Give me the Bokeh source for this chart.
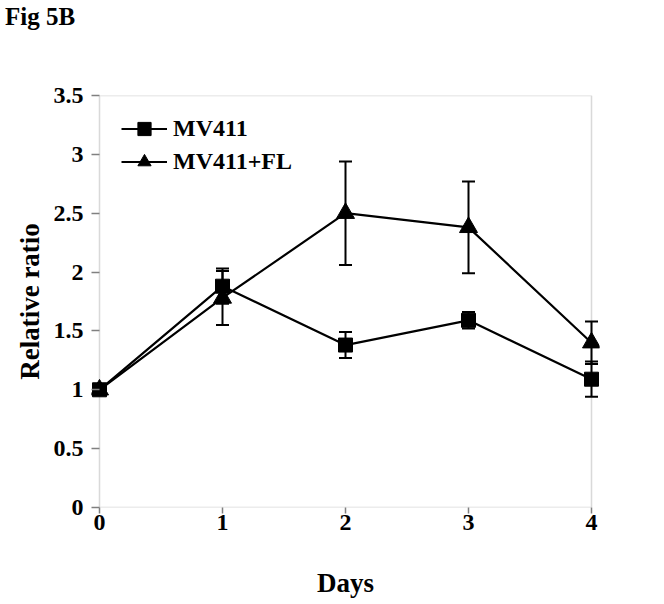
from bokeh.plotting import figure
from bokeh.layouts import column
from bokeh.models import (Range1d, FixedTicker, ColumnDataSource, Whisker, TeeHead,
                          Legend, LegendItem, BoxAnnotation, Div)
from bokeh.embed import file_html
from bokeh.resources import INLINE

# ---- data ----
days = [0, 1, 2, 3, 4]
mv411 = [1.00, 1.88, 1.38, 1.59, 1.09]
mv411_err = [0.0, 0.15, 0.11, 0.07, 0.15]
mv411fl = [1.00, 1.78, 2.50, 2.38, 1.40]
mv411fl_err = [0.0, 0.23, 0.44, 0.39, 0.18]
y_ticks = [0, 0.5, 1, 1.5, 2, 2.5, 3, 3.5]
y_tick_labels = ["0", "0.5", "1", "1.5", "2", "2.5", "3", "3.5"]
x_ticks = [0, 1, 2, 3, 4]
series_names = ["MV411", "MV411+FL"]
title_text = "Fig 5B"

FONT = "Liberation Serif"
GRAY = "#808080"

box_px = 492.0
pad_px = 8.0
pad = (days[-1] - days[0]) * pad_px / box_px

TITLE_H = 40

title = Div(text=title_text, width=656, height=TITLE_H, margin=(0, 0, 0, 0),
            styles={"font-family": FONT, "font-weight": "bold", "font-size": "25px",
                    "color": "black", "line-height": "1", "padding-top": "4px",
                    "padding-left": "5px", "background-color": "white"})

p = figure(width=656, height=600 - TITLE_H, output_backend="svg", toolbar_location=None,
           x_range=Range1d(days[0] - pad, days[-1] + pad), y_range=Range1d(0, 3.5),
           min_border_left=91, min_border_right=57, min_border_top=95 - TITLE_H,
           min_border_bottom=92, margin=(0, 0, 0, 0))
p.outline_line_color = None
p.grid.visible = False
p.background_fill_color = "white"
p.border_fill_color = "white"

# frame box
p.add_layout(BoxAnnotation(left=days[0], right=days[-1], bottom=0, top=3.5,
                           fill_alpha=0, line_color=GRAY, line_width=1.5, level="underlay"))

# axes
xa = p.xaxis[0]
xa.ticker = FixedTicker(ticks=x_ticks)
xa.axis_line_color = None
xa.major_tick_line_color = GRAY
xa.major_tick_line_width = 1.5
xa.major_tick_out = 6
xa.major_tick_in = 0
xa.minor_tick_line_color = None
xa.major_label_text_font = FONT
xa.major_label_text_font_style = "bold"
xa.major_label_text_font_size = "24px"
xa.major_label_text_color = "black"
xa.major_label_standoff = 1
xa.axis_label = "Days"
xa.axis_label_text_font = FONT
xa.axis_label_text_font_style = "bold"
xa.axis_label_text_font_size = "27px"
xa.axis_label_text_color = "black"
xa.axis_label_standoff = 35

ya = p.yaxis[0]
ya.ticker = FixedTicker(ticks=y_ticks)
ya.major_label_overrides = {t: l for t, l in zip(y_ticks, y_tick_labels)}
ya.axis_line_color = None
ya.major_tick_line_color = GRAY
ya.major_tick_line_width = 1.5
ya.major_tick_out = 0
ya.major_tick_in = 8
ya.minor_tick_line_color = None
ya.major_label_text_font = FONT
ya.major_label_text_font_style = "bold"
ya.major_label_text_font_size = "24px"
ya.major_label_text_color = "black"
ya.major_label_standoff = 8
ya.axis_label = "Relative ratio"
ya.axis_label_text_font = FONT
ya.axis_label_text_font_style = "bold"
ya.axis_label_text_font_size = "27px"
ya.axis_label_text_color = "black"
ya.axis_label_standoff = 6

# error bars
for vals, errs in ((mv411fl, mv411fl_err), (mv411, mv411_err)):
    src = ColumnDataSource(dict(x=days,
                                upper=[v + e for v, e in zip(vals, errs)],
                                lower=[v - e for v, e in zip(vals, errs)]))
    p.add_layout(Whisker(source=src, base="x", upper="upper", lower="lower",
                         dimension="height", line_color="black", line_width=2,
                         upper_head=TeeHead(size=13, line_color="black", line_width=2),
                         lower_head=TeeHead(size=13, line_color="black", line_width=2)))

# series
l2 = p.line(days, mv411fl, line_color="black", line_width=2.2)
s2 = p.scatter(days, mv411fl, marker="triangle", size=18, fill_color="black", line_color="black")
l1 = p.line(days, mv411, line_color="black", line_width=2.2)
s1 = p.scatter(days, mv411, marker="square", size=14, fill_color="black", line_color="black")

legend = Legend(items=[LegendItem(label=series_names[0], renderers=[l1, s1]),
                       LegendItem(label=series_names[1], renderers=[l2, s2])],
                location=(30, 413 - 18 - 66), orientation="vertical",
                border_line_alpha=0, background_fill_alpha=0,
                padding=0, margin=0, spacing=0,
                glyph_width=46, glyph_height=33, label_height=33, label_standoff=6,
                label_text_font=FONT, label_text_font_style="bold",
                label_text_font_size="24px", label_text_color="black")
p.add_layout(legend)

layout = column(title, p, spacing=0)
open("out.html", "w").write(file_html(layout, INLINE))
